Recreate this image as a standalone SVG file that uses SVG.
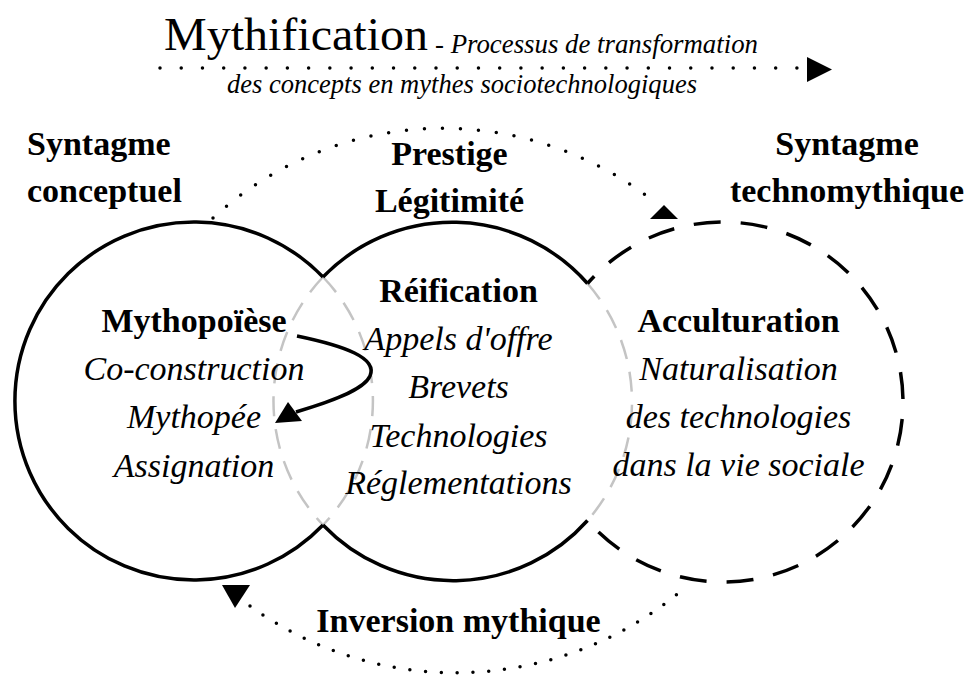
<svg xmlns="http://www.w3.org/2000/svg" width="971" height="675" viewBox="0 0 971 675">
<style>
.b{font-family:"Liberation Serif","Times New Roman",serif;font-weight:bold;font-size:34px;fill:#000}
.i{font-family:"Liberation Serif","Times New Roman",serif;font-style:italic;font-size:34px;fill:#000}
.r{font-family:"Liberation Serif","Times New Roman",serif;fill:#000}
.m{text-anchor:middle}
.solid{fill:none;stroke:#000;stroke-width:3.5}
.gray{fill:none;stroke:#c4c4c4;stroke-width:2.5;stroke-dasharray:20 13}
.dash{fill:none;stroke:#000;stroke-width:3.5;stroke-dasharray:27 20}
.dot{fill:none;stroke:#000;stroke-width:3.5;stroke-linecap:round}
.head{fill:#000;stroke:none}
</style>
<rect width="971" height="675" fill="#fff"/>

<g id="title">
  <text class="r" x="164" y="50" font-size="47" textLength="264" lengthAdjust="spacingAndGlyphs">Mythification</text>
  <text class="r" x="435" y="53" font-size="27" font-style="italic" textLength="323" lengthAdjust="spacingAndGlyphs">- Processus de transformation</text>
  <text class="r" x="227" y="93" font-size="27" font-style="italic" textLength="470" lengthAdjust="spacingAndGlyphs">des concepts en mythes sociotechnologiques</text>
</g>

<g id="circles">
  <path class="gray" d="M323,277 A179,179 0 0 1 323,525"/>
  <path class="gray" d="M323,277 A180,180 0 0 0 323,525"/>
  <path class="gray" d="M587.5,283.5 A180,180 0 0 1 587.5,520.5"/>
  <path class="solid" d="M323,277 A179,179 0 1 0 323,525"/>
  <path class="solid" d="M323,277 A180,180 0 0 1 587.5,283.5"/>
  <path class="solid" d="M323,525 A180,180 0 0 0 587.5,520.5"/>
  <path class="dash" stroke-dashoffset="17" d="M587.5,283.5 A180,180 0 1 1 587.5,520.5"/>
</g>

<g id="syntagme-conceptuel">
  <text class="b" x="27" y="155">Syntagme</text>
  <text class="b" x="27" y="202">conceptuel</text>
</g>

<g id="prestige">
  <text class="b m" x="449.5" y="165">Prestige</text>
  <text class="b m" x="449.5" y="212">Légitimité</text>
</g>

<g id="syntagme-technomythique">
  <text class="b m" x="847" y="155">Syntagme</text>
  <text class="b m" x="847" y="202">technomythique</text>
</g>

<g id="mythopoiese">
  <text class="b m" x="194" y="332">Mythopoïèse</text>
  <text class="i m" x="194" y="380">Co-construction</text>
  <text class="i m" x="194" y="428">Mythopée</text>
  <text class="i m" x="194" y="477">Assignation</text>
</g>

<g id="reification">
  <text class="b m" x="458.5" y="302">Réification</text>
  <text class="i m" x="458.5" y="350">Appels d'offre</text>
  <text class="i m" x="458.5" y="398">Brevets</text>
  <text class="i m" x="458.5" y="447">Technologies</text>
  <text class="i m" x="458.5" y="494">Réglementations</text>
</g>

<g id="acculturation">
  <text class="b m" x="738.5" y="332">Acculturation</text>
  <text class="i m" x="738.5" y="380">Naturalisation</text>
  <text class="i m" x="738.5" y="428">des technologies</text>
  <text class="i m" x="738.5" y="476">dans la vie sociale</text>
</g>

<g id="inversion">
  <text class="b m" x="458.5" y="632">Inversion mythique</text>
</g>

<g id="connectors">
  <path class="dot" stroke-dasharray="0 21.23" d="M160,68 L797,68"/>
  <polygon class="head" points="807,57 832,69.5 807,82"/>
  <path class="dot" stroke-dasharray="0 18" d="M213,218 A340,340 0 0 1 648,197"/>
  <polygon class="head" points="664,205 678,219 650,219"/>
  <path class="dot" stroke-dasharray="0 15.8" d="M250,606 A351,351 0 0 0 688,585"/>
  <polygon class="head" points="222,585 250,585 235,608"/>
  <path class="solid" d="M297,336 C345,346 378,358 370,376 C364,390 330,402 296,412"/>
  <polygon class="head" points="275,423 302,421 288,402"/>
</g>
</svg>
